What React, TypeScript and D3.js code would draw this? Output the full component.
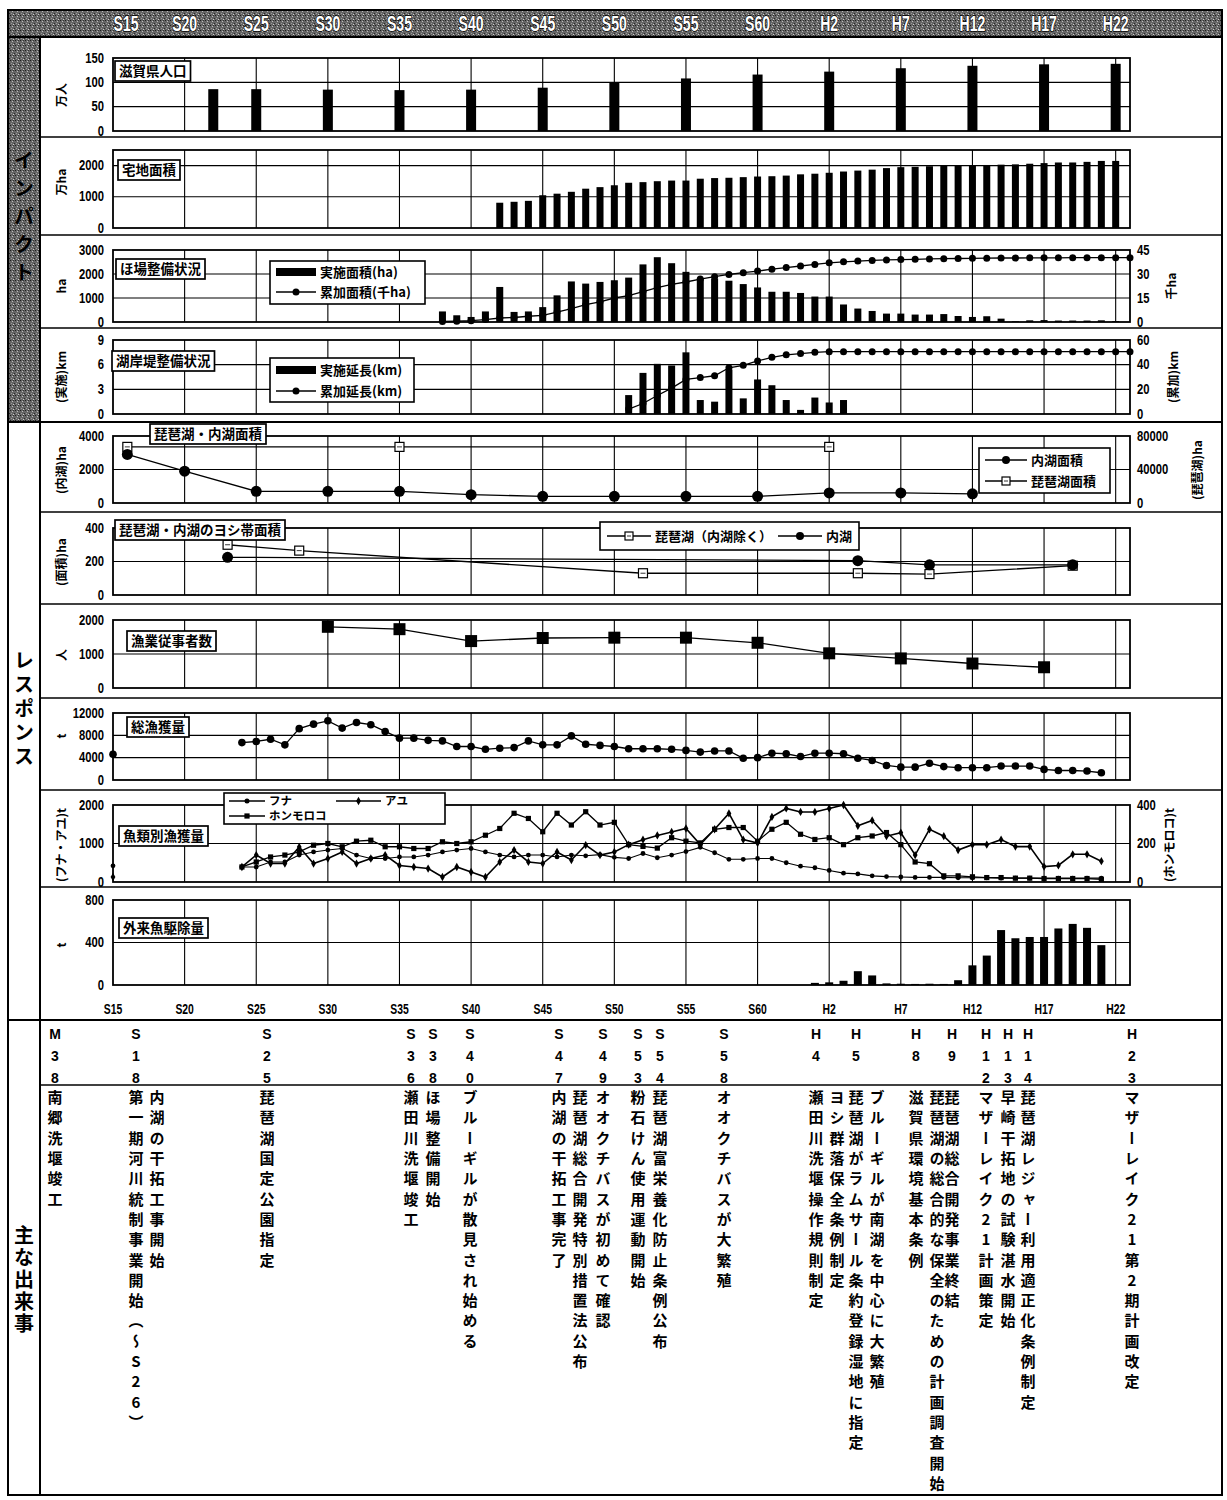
import React from "react";
import * as d3 from "d3";

// ---------------- DATA ----------------
const eraLabels = ["S15","S20","S25","S30","S35","S40","S45","S50","S55","S60","H2","H7","H12","H17","H22"];
const eraYears = [1940,1945,1950,1955,1960,1965,1970,1975,1980,1985,1990,1995,2000,2005,2010];

// 滋賀県人口 (万人)
const popYears = [1947,1950,1955,1960,1965,1970,1975,1980,1985,1990,1995,2000,2005,2010];
const popValues = [86,86,85,84,85,89,99,108,116,122,129,134,137,138];

// 宅地面積
const housingYears = d3.range(1967, 2011);
const housingValues = [810,840,870,1050,1100,1160,1260,1310,
  1370,1450,1470,1500,1520,1520,1580,1600,1610,1630,
  1650,1660,1680,1720,1740,1770,1810,1840,1870,1920,
  1950,1960,1980,1990,2000,2010,2020,2030,2040,2060,
  2080,2100,2100,2120,2150,2150];

// ほ場整備状況
const fieldYears = d3.range(1963, 2011);
const fieldArea = [440,280,210,440,1460,420,440,620,1110,1690,1600,1670,
  1740,1850,2400,2700,2450,2090,1810,1810,1720,1580,
  1440,1260,1260,1210,1060,1060,730,560,460,350,
  350,310,310,330,250,210,240,140,30,70,
  80,60,60,60,70,40];
const fieldCumYears = d3.range(1963, 2012);
const fieldCum = [0.3,0.5,0.8,1.5,2.5,2.8,3.6,4.2,6.2,8.4,10.8,12.6,
  15.0,16.5,19.0,21.5,23.5,25.0,26.8,28.3,29.7,30.8,
  31.8,33.0,34.0,35.0,36.0,37.0,37.6,38.1,38.5,38.8,
  39.0,39.2,39.4,39.6,39.7,39.8,39.9,40.0,40.0,40.1,
  40.1,40.1,40.2,40.2,40.2,40.2,40.2];

// 湖岸堤整備状況
const shoreYears = d3.range(1976, 1992);
const shoreLen = [2.3,5.0,6.1,5.9,7.5,1.7,1.5,5.4,1.9,4.2,3.5,1.7,0.5,2.0,1.4,1.7];
const shoreCumYears = d3.range(1976, 2012);
const shoreCum = [4.0,8.5,15.0,21.0,28.0,29.5,31.0,37.5,39.5,43.0,46.0,48.0,49.0,50.0,50.5,50.5,
  50.5,50.5,50.5,50.5,50.5,50.5,50.5,50.5,50.5,50.5,
  50.5,50.5,50.5,50.5,50.5,50.5,50.5,50.5,50.5,50.5];

// 琵琶湖・内湖面積
const naikoYears = [1941,1945,1950,1955,1960,1965,1970,1975,1980,1985,1990,1995,2000];
const naikoArea = [2900,1900,700,700,700,500,400,400,400,400,600,600,550];
const biwaYears = [1941,1960,1990];
const biwaArea = [67000,67000,67000];

// ヨシ帯面積
const reedBiwaYears = [1948,1953,1977,1992,1997,2007];
const reedBiwa = [300,265,130,130,125,175];
const reedNaikoYears = [1948,1992,1997,2007];
const reedNaiko = [225,205,180,180];

// 漁業従事者数
const fisherYears = [1955,1960,1965,1970,1975,1980,1985,1990,1995,2000,2005];
const fishers = [1800,1730,1380,1470,1480,1480,1330,1020,870,720,610];

// 総漁獲量
const catchYears = [1940, ...d3.range(1949, 2010)];
const totalCatch = [4600,
  6700,6900,7300,6300,9200,10000,10600,9300,10300,9900,8700,
  7500,7500,7100,7000,6000,6000,5500,5700,5800,7000,
  6300,6300,7900,6400,6200,6000,5600,5600,5600,5500,
  5300,5000,5200,5200,3900,4000,4800,4700,4200,4800,
  4800,4700,3900,3500,2600,2300,2300,3000,2400,2200,
  2200,2200,2500,2500,2500,1900,1700,1700,1600,1300];

// 魚類別漁獲量
const funaYears = [1940, ...d3.range(1949, 2010)];
const funa = [420,
  390,390,520,520,700,780,830,870,700,610,610,650,650,700,780,830,870,780,700,650,700,700,650,700,680,710,640,
  610,740,630,700,790,900,760,590,590,610,
  610,500,410,370,300,230,210,160,140,130,
  120,120,120,110,110,110,100,100,100,100,
  100,100,100,100];
const ayuYears = [1940, ...d3.range(1949, 2010)];
const ayu = [130,
  390,700,480,480,910,480,610,780,480,610,700,430,390,350,130,390,260,130,520,830,520,480,780,570,960,700,780,
  970,1100,1210,1300,1390,970,1370,1780,1100,1010,
  1690,1910,1820,1820,1910,2000,1460,1600,1190,1280,
  700,1370,1190,830,970,970,1100,920,920,400,
  430,720,720,540];
const moroYears = d3.range(1949, 2010);
const moroko = [78,104,130,140,157,191,200,183,212,217,183,183,174,174,209,200,209,243,278,357,330,261,357,296,365,296,310,
  194,185,176,230,212,203,274,283,283,212,
  274,310,248,221,230,194,230,239,257,194,
  104,95,32,32,27,23,23,20,20,18,
  18,18,18,14];

// 外来魚駆除量
const alienYears = d3.range(1989, 2010);
const alien = [20,25,40,130,90,15,12,10,12,10,45,185,277,517,440,452,452,532,575,538,375];

// 主な出来事
const eventYearLabels = ["M38","S18","S25","S36","S38","S40","S47","S49","S53","S54","S58","H4","H5","H8","H9","H12","H13","H14","H23"];
const eventTexts = [
  ["南郷洗堰竣工"],
  ["第一期河川統制事業開始（～S26）","内湖の干拓工事開始"],
  ["琵琶湖国定公園指定"],
  ["瀬田川洗堰竣工"],
  ["ほ場整備開始"],
  ["ブルーギルが散見され始める"],
  ["内湖の干拓工事完了","琵琶湖総合開発特別措置法公布"],
  ["オオクチバスが初めて確認"],
  ["粉石けん使用運動開始"],
  ["琵琶湖富栄養化防止条例公布"],
  ["オオクチバスが大繁殖"],
  ["瀬田川洗堰操作規則制定","ヨシ群落保全条例制定"],
  ["琵琶湖がラムサール条約登録湿地に指定","ブルーギルが南湖を中心に大繁殖"],
  ["滋賀県環境基本条例","琵琶湖の総合的な保全のための計画調査開始"],
  ["琵琶湖総合開発事業終結"],
  ["マザーレイク21計画策定"],
  ["早崎干拓地の試験湛水開始"],
  ["琵琶湖レジャー利用適正化条例制定"],
  ["マザーレイク21第2期計画改定"],
];

// ---------------- LAYOUT ----------------
const eventColX = [55,136,267,411,433,470,559,603,638,660,724,816,856,916,952,986,1008,1028,1132];

const FONT_JP = "'Noto Sans CJK JP','Noto Sans',sans-serif";
const FONT_NUM = "'Liberation Sans','DejaVu Sans',sans-serif";

const L = 113, R = 1130;
const X = d3.scaleLinear().domain([1940, 2011]).range([L, R]);
const gridYears = d3.range(1945, 2011, 5);

type Spec = {
  top: number; bottom: number; max: number; ticks: number[];
  rmax?: number; rticks?: number[];
  unit: string; uy: number; runit?: string; rux?: number;
  title: string; tx: number; ty: number;
};

const S: Record<string, Spec> = {
  pop: { top: 58, bottom: 131, max: 150, ticks: [0,50,100,150], unit: "万人", uy: 95, title: "滋賀県人口", tx: 115, ty: 61 },
  house: { top: 150, bottom: 228, max: 2500, ticks: [0,1000,2000], unit: "万ha", uy: 182, title: "宅地面積", tx: 118, ty: 160 },
  field: { top: 250, bottom: 322, max: 3000, ticks: [0,1000,2000,3000], rmax: 45, rticks: [0,15,30,45], unit: "ha", uy: 286, runit: "千ha", rux: 1172, title: "ほ場整備状況", tx: 116, ty: 259 },
  shore: { top: 340, bottom: 414, max: 9, ticks: [0,3,6,9], rmax: 60, rticks: [0,20,40,60], unit: "(実施)km", uy: 377, runit: "(累加)km", rux: 1174, title: "湖岸堤整備状況", tx: 112, ty: 351 },
  lake: { top: 436, bottom: 503, max: 4000, ticks: [0,2000,4000], rmax: 80000, rticks: [0,40000,80000], unit: "(内湖)ha", uy: 470, runit: "(琵琶湖)ha", rux: 1198, title: "琵琶湖・内湖面積", tx: 150, ty: 424 },
  reed: { top: 528, bottom: 595, max: 400, ticks: [0,200,400], unit: "(面積)ha", uy: 562, title: "琵琶湖・内湖のヨシ帯面積", tx: 115, ty: 520 },
  fisher: { top: 620, bottom: 688, max: 2000, ticks: [0,1000,2000], unit: "人", uy: 655, title: "漁業従事者数", tx: 127, ty: 631 },
  total: { top: 713, bottom: 780, max: 12000, ticks: [0,4000,8000,12000], unit: "t", uy: 736, title: "総漁獲量", tx: 127, ty: 717 },
  species: { top: 805, bottom: 882, max: 2000, ticks: [0,1000,2000], rmax: 400, rticks: [0,200,400], unit: "(フナ・アユ)t", uy: 845, runit: "(ホンモロコ)t", rux: 1170, title: "魚類別漁獲量", tx: 119, ty: 826 },
  alien: { top: 900, bottom: 985, max: 800, ticks: [0,400,800], unit: "t", uy: 945, title: "外来魚駆除量", tx: 119, ty: 918 },
};

const yOf = (s: Spec) => d3.scaleLinear().domain([0, s.max]).range([s.bottom, s.top]);
const yrOf = (s: Spec) => d3.scaleLinear().domain([0, s.rmax || 1]).range([s.bottom, s.top]);

const numStyle: React.CSSProperties = { fontFamily: FONT_NUM, fontWeight: 700, fontSize: 12.5 };
const jpStyle: React.CSSProperties = { fontFamily: FONT_JP, fontWeight: 700, fontSize: 13 };

function charWidth(t: string, fs = 13) {
  let w = 0;
  for (const c of t) w += /[\x00-\x7f]/.test(c) ? fs * 0.55 : fs;
  return w;
}

function Frame({ s }: { s: Spec }) {
  const y = yOf(s);
  const yr = s.rmax ? yrOf(s) : null;
  return (
    <g>
      {s.ticks.filter(t => t > 0 && t < s.max).map(t => (
        <line key={"h" + t} x1={L} x2={R} y1={y(t)} y2={y(t)} stroke="#000" strokeWidth={1.1} />
      ))}
      {gridYears.map(g => (
        <line key={"v" + g} x1={X(g)} x2={X(g)} y1={s.top} y2={s.bottom} stroke="#000" strokeWidth={1.1} />
      ))}
      <rect x={L} y={s.top} width={R - L} height={s.bottom - s.top} fill="none" stroke="#000" strokeWidth={1.8} />
      {s.ticks.map(t => (
        <text key={"l" + t} transform={`translate(104,${y(t) + 4.5}) scale(0.9,1.1)`} textAnchor="end" style={numStyle}>{t}</text>
      ))}
      {yr && s.rticks!.map(t => (
        <text key={"r" + t} transform={`translate(1137,${yr(t) + 4.5}) scale(0.9,1.1)`} textAnchor="start" style={numStyle}>{t}</text>
      ))}
      <text transform={`translate(66,${s.uy}) rotate(-90)`} textAnchor="middle" style={{ ...jpStyle, fontSize: 12 }}>{s.unit}</text>
      {s.runit && (
        <text transform={`translate(${s.rux! + 4},${s.uy}) rotate(-90)`} textAnchor="middle" style={{ ...jpStyle, fontSize: 12 }}>{s.runit}</text>
      )}
    </g>
  );
}

function TitleBox({ s }: { s: Spec }) {
  const fs = 13.5;
  const w = charWidth(s.title, fs) + 8;
  return (
    <g>
      <rect x={s.tx} y={s.ty} width={w} height={20} fill="#fff" stroke="#000" strokeWidth={1.7} />
      <text x={s.tx + 4} y={s.ty + 15} style={{ ...jpStyle, fontSize: fs }}>{s.title}</text>
    </g>
  );
}

function Bars({ s, years, values, w }: { s: Spec; years: number[]; values: number[]; w: number }) {
  const y = yOf(s);
  return (
    <g>
      {years.map((yr, i) => (
        <rect key={yr} x={X(yr) - w / 2} y={y(values[i])} width={w} height={s.bottom - y(values[i])} fill="#000" />
      ))}
    </g>
  );
}

type Marker = "circle" | "square" | "osquare" | "diamond";

function MarkerShape({ kind, cx, cy, size }: { kind: Marker; cx: number; cy: number; size: number }) {
  if (kind === "circle") return <circle cx={cx} cy={cy} r={size} fill="#000" />;
  if (kind === "square") return <rect x={cx - size} y={cy - size} width={size * 2} height={size * 2} fill="#000" />;
  if (kind === "osquare") return (
    <g>
      <rect x={cx - size} y={cy - size} width={size * 2} height={size * 2} fill="#fff" stroke="#000" strokeWidth={1.2} />
      <line x1={cx - size + 2} x2={cx + size - 2} y1={cy} y2={cy} stroke="#000" strokeWidth={0.8} />
    </g>
  );
  const p = d3.symbol(d3.symbolDiamond, size * size * 2.2)();
  return <path d={p || ""} transform={`translate(${cx},${cy})`} fill="#000" />;
}

function Series({ yScale, years, values, marker, size, sw = 1.3 }: {
  yScale: d3.ScaleLinear<number, number>; years: number[]; values: number[]; marker: Marker; size: number; sw?: number;
}) {
  const pts: [number, number][] = years.map((yr, i) => [X(yr), yScale(values[i])]);
  const line = d3.line()(pts) || "";
  return (
    <g>
      <path d={line} fill="none" stroke="#000" strokeWidth={sw} />
      {pts.map((p, i) => <MarkerShape key={i} kind={marker} cx={p[0]} cy={p[1]} size={size} />)}
    </g>
  );
}

function LegendEntry({ x, y, len, marker, size, label, bar, fs = 13 }: { x: number; y: number; len: number; marker?: Marker; size?: number; label: string; bar?: boolean; fs?: number }) {
  return (
    <g>
      {bar ? (
        <rect x={x} y={y - 4} width={len} height={8} fill="#000" />
      ) : (
        <g>
          <line x1={x} x2={x + len} y1={y} y2={y} stroke="#000" strokeWidth={1.3} />
          <MarkerShape kind={marker!} cx={x + len / 2} cy={y} size={size!} />
        </g>
      )}
      <text x={x + len + 4} y={y + fs * 0.36} style={{ ...jpStyle, fontSize: fs }}>{label}</text>
    </g>
  );
}

function VText({ x, y, text, size, step, font = FONT_JP }: { x: number; y: number; text: string; size: number; step: number; font?: string }) {
  return (
    <text x={x} y={y} style={{
      fontFamily: font, fontWeight: 700, fontSize: size,
      writingMode: "vertical-rl" as any, textOrientation: "upright" as any,
      letterSpacing: `${step - size}px`,
    }}>{text}</text>
  );
}

export default function App() {
  const sp = S.species;
  const yFunaAyu = yOf(sp);
  const yMoro = yrOf(sp);
  return (
    <svg width={1227} height={1500} style={{ position: "absolute", left: 0, top: 0, background: "#fff" }}>
      <defs>
        <pattern id="tex" width={5} height={5} patternUnits="userSpaceOnUse">
          <rect width={5} height={5} fill="#656565" />
          <rect x={0} y={0} width={1} height={1} fill="#1e1e1e" />
          <rect x={2} y={1} width={1} height={1} fill="#bdbdbd" />
          <rect x={4} y={3} width={1} height={1} fill="#2a2a2a" />
          <rect x={1} y={3} width={1} height={1} fill="#9a9a9a" />
          <rect x={3} y={4} width={1} height={1} fill="#d0d0d0" />
          <rect x={3} y={0} width={1} height={1} fill="#333" />
        </pattern>
      </defs>
      <rect x={0} y={0} width={1227} height={1500} fill="#fff" />

      {/* header band */}
      <rect x={8} y={10} width={1214} height={27} fill="url(#tex)" />
      {eraYears.map((yr, i) => (
        <text key={"hd" + yr} transform={`translate(${Math.max(X(yr), 126)},31) scale(0.78,1.2)`} textAnchor="middle"
          style={{ fontFamily: FONT_NUM, fontWeight: 700, fontSize: 18, fill: "#fff", stroke: "#000", strokeWidth: 1.2, paintOrder: "stroke" }}>
          {eraLabels[i]}
        </text>
      ))}

      {/* left category column */}
      <rect x={8} y={37} width={32} height={385} fill="url(#tex)" />
      <VText x={24} y={150} text="インパクト" size={20} step={28} />
      <VText x={24} y={650} text="レスポンス" size={20} step={24} />
      <VText x={24} y={1225} text="主な出来事" size={20} step={22} />

      {/* structure lines */}
      <rect x={8} y={10} width={1214} height={1485} fill="none" stroke="#000" strokeWidth={2} />
      <line x1={8} x2={1222} y1={37} y2={37} stroke="#000" strokeWidth={2} />
      <line x1={40} x2={40} y1={37} y2={1495} stroke="#000" strokeWidth={2} />
      <line x1={8} x2={1222} y1={422} y2={422} stroke="#000" strokeWidth={2} />
      <line x1={8} x2={1222} y1={1020} y2={1020} stroke="#000" strokeWidth={2} />
      {[137, 235, 328, 512, 604, 698, 790, 887].map(v => (
        <line key={"rs" + v} x1={40} x2={1222} y1={v} y2={v} stroke="#000" strokeWidth={1.5} />
      ))}
      <line x1={40} x2={1222} y1={1085} y2={1085} stroke="#000" strokeWidth={1.5} />

      {/* Panel 1: population */}
      <Frame s={S.pop} />
      <Bars s={S.pop} years={popYears} values={popValues} w={10} />
      <TitleBox s={S.pop} />

      {/* Panel 2: housing */}
      <Frame s={S.house} />
      <Bars s={S.house} years={housingYears} values={housingValues} w={7} />
      <TitleBox s={S.house} />

      {/* Panel 3: field */}
      <Frame s={S.field} />
      <Bars s={S.field} years={fieldYears} values={fieldArea} w={7} />
      <Series yScale={yrOf(S.field)} years={fieldCumYears} values={fieldCum} marker="circle" size={3.5} />
      <TitleBox s={S.field} />
      <rect x={270} y={261} width={155} height={43} fill="#fff" stroke="#000" strokeWidth={1.6} />
      <LegendEntry x={276} y={272} len={40} bar label="実施面積(ha)" />
      <LegendEntry x={276} y={292} len={40} marker="circle" size={3.5} label="累加面積(千ha)" />

      {/* Panel 4: shore */}
      <Frame s={S.shore} />
      <Bars s={S.shore} years={shoreYears} values={shoreLen} w={7} />
      <Series yScale={yrOf(S.shore)} years={shoreCumYears} values={shoreCum} marker="circle" size={3.5} />
      <TitleBox s={S.shore} />
      <rect x={270} y={358} width={144} height={44} fill="#fff" stroke="#000" strokeWidth={1.6} />
      <LegendEntry x={276} y={370} len={40} bar label="実施延長(km)" />
      <LegendEntry x={276} y={391} len={40} marker="circle" size={3.5} label="累加延長(km)" />

      {/* Panel 5: lake area */}
      <Frame s={S.lake} />
      <Series yScale={yrOf(S.lake)} years={biwaYears} values={biwaArea} marker="osquare" size={4.5} />
      <Series yScale={yOf(S.lake)} years={naikoYears} values={naikoArea} marker="circle" size={5.5} />
      <TitleBox s={S.lake} />
      <rect x={979} y={448} width={131} height={45} fill="#fff" stroke="#000" strokeWidth={1.6} />
      <LegendEntry x={985} y={460} len={42} marker="circle" size={4} label="内湖面積" />
      <LegendEntry x={985} y={481} len={42} marker="osquare" size={4} label="琵琶湖面積" />

      {/* Panel 6: reed */}
      <Frame s={S.reed} />
      <Series yScale={yOf(S.reed)} years={reedBiwaYears} values={reedBiwa} marker="osquare" size={4.5} />
      <Series yScale={yOf(S.reed)} years={reedNaikoYears} values={reedNaiko} marker="circle" size={5.5} />
      <TitleBox s={S.reed} />
      <rect x={600} y={522} width={259} height={28} fill="#fff" stroke="#000" strokeWidth={1.6} />
      <LegendEntry x={607} y={536} len={44} marker="osquare" size={4} label="琵琶湖（内湖除く）" />
      <LegendEntry x={778} y={536} len={44} marker="circle" size={4} label="内湖" />

      {/* Panel 7: fishers */}
      <Frame s={S.fisher} />
      <Series yScale={yOf(S.fisher)} years={fisherYears} values={fishers} marker="square" size={6} />
      <TitleBox s={S.fisher} />

      {/* Panel 8: total catch */}
      <Frame s={S.total} />
      <Series yScale={yOf(S.total)} years={catchYears.slice(1)} values={totalCatch.slice(1)} marker="circle" size={3.8} />
      <MarkerShape kind="circle" cx={X(catchYears[0])} cy={yOf(S.total)(totalCatch[0])} size={3.8} />
      <TitleBox s={S.total} />

      {/* Panel 9: species */}
      <Frame s={sp} />
      <Series yScale={yFunaAyu} years={funaYears.slice(1)} values={funa.slice(1)} marker="circle" size={2.4} sw={1.1} />
      <MarkerShape kind="circle" cx={X(funaYears[0])} cy={yFunaAyu(funa[0])} size={2.4} />
      <Series yScale={yFunaAyu} years={ayuYears.slice(1)} values={ayu.slice(1)} marker="diamond" size={3} sw={1.6} />
      <MarkerShape kind="diamond" cx={X(ayuYears[0])} cy={yFunaAyu(ayu[0])} size={3} />
      <Series yScale={yMoro} years={moroYears} values={moroko} marker="square" size={2.6} sw={1.3} />
      <TitleBox s={sp} />
      <rect x={224} y={793} width={221} height={31} fill="#fff" stroke="#000" strokeWidth={1.6} />
      <LegendEntry x={229} y={801} len={36} marker="circle" size={2.5} label="フナ" fs={11.5} />
      <LegendEntry x={336} y={801} len={45} marker="diamond" size={3} label="アユ" fs={11.5} />
      <LegendEntry x={229} y={816} len={36} marker="square" size={2.6} label="ホンモロコ" fs={11.5} />

      {/* Panel 10: alien fish removal */}
      <Frame s={S.alien} />
      <Bars s={S.alien} years={alienYears} values={alien} w={8} />
      <TitleBox s={S.alien} />
      {eraYears.map((yr, i) => (
        <text key={"ax" + yr} transform={`translate(${X(yr)},1014) scale(0.8,1.15)`} textAnchor="middle" style={{ ...numStyle, fontSize: 13 }}>{eraLabels[i]}</text>
      ))}

      {/* Events */}
      {eventYearLabels.map((lab, i) => (
        <VText key={"ey" + i} x={eventColX[i]} y={1026} text={lab} size={14} step={20} font={FONT_NUM} />
      ))}
      {eventTexts.map((cols, i) => cols.map((t, j) => (
        <VText key={"et" + i + "_" + j} x={eventColX[i] + j * 21} y={1090} text={t} size={15} step={20.3} />
      )))}
    </svg>
  );
}
